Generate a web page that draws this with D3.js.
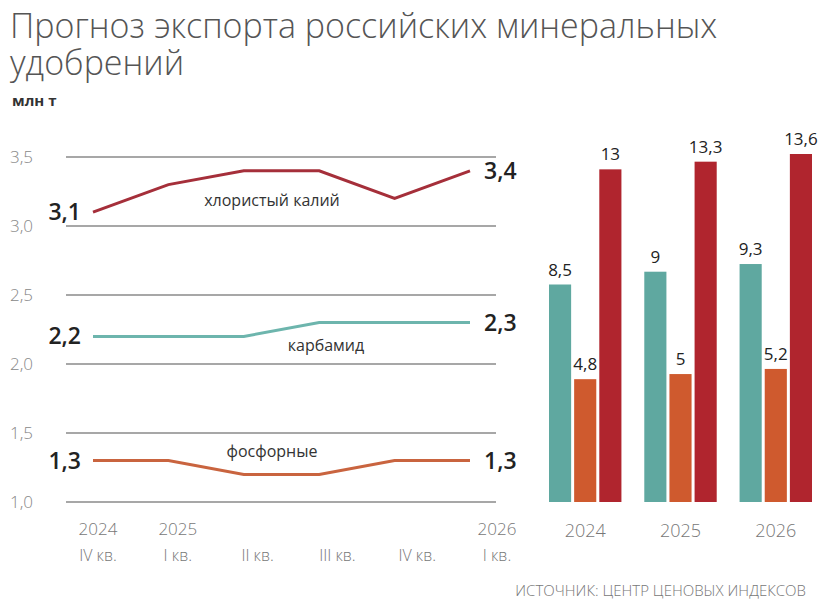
<!DOCTYPE html>
<html>
<head>
<meta charset="utf-8">
<script src="https://cdn.jsdelivr.net/npm/d3@7"></script>
<style>
  body { margin: 0; background: #fff; }
  text { font-family: "Open Sans", "Noto Sans", sans-serif; }
</style>
</head>
<body>
<div id="chart"></div>
<script>
// Quarterly line data
var quarters = ["2024 IV", "2025 I", "2025 II", "2025 III", "2025 IV", "2026 I"];
var yearLabels = ["2024", "2025", "", "", "", "2026"];
var quarterLabels = ["IV кв.", "I кв.", "II кв.", "III кв.", "IV кв.", "I кв."];
var potash = [3.1, 3.3, 3.4, 3.4, 3.2, 3.4];
var urea = [2.2, 2.2, 2.2, 2.3, 2.3, 2.3];
var phosphate = [1.3, 1.3, 1.2, 1.2, 1.3, 1.3];
var yTicks = [1.0, 1.5, 2.0, 2.5, 3.0, 3.5];

// Annual bar data
var years = ["2024", "2025", "2026"];
var ureaYear = [8.5, 9, 9.3];
var phosphateYear = [4.8, 5, 5.2];
var potashYear = [13, 13.3, 13.6];

var svgWidth = 824;
var svgHeight = 612;

var svg = d3.select("#chart").append("svg")
  .attr("width", svgWidth)
  .attr("height", svgHeight);

var fmt = function(v) { return String(v).replace(".", ","); };

// title (two lines in one text element)
var title = svg.append("text").attr("x", 10).attr("y", 38)
  .attr("font-size", 34).attr("font-weight", 300).attr("fill", "#555");
title.append("tspan").attr("x", 10).attr("dy", 0)
  .text("Прогноз экспорта российских минеральных");
title.append("tspan").attr("x", 10).attr("dy", 37)
  .text("удобрений");
svg.append("text").attr("x", 12).attr("y", 106)
  .attr("font-size", 15).attr("font-weight", 700).attr("fill", "#333")
  .text("млн т");

// ---------- line chart ----------
var xLine = d3.scalePoint().domain(quarters).range([93, 470]);
var xLabel = d3.scalePoint().domain(quarters).range([98, 497]);
var yLine = d3.scaleLinear().domain([1.0, 3.5]).range([502, 157]);

var grid = svg.append("g");
grid.selectAll("line").data(yTicks).enter().append("line")
  .attr("x1", 66).attr("x2", 496)
  .attr("y1", d => yLine(d)).attr("y2", d => yLine(d))
  .attr("stroke", "#8a8a8a").attr("stroke-width", 1.5);
grid.selectAll("text").data(yTicks).enter().append("text")
  .attr("x", 10).attr("y", d => yLine(d) + 6)
  .attr("font-size", 17).attr("font-weight", 300).attr("fill", "#888")
  .text(d => d.toFixed(1).replace(".", ","));

var lineGen = d3.line()
  .x((d, i) => xLine(quarters[i]))
  .y(d => yLine(d));

var series = [
  { values: potash, color: "#a52f3a", label: "хлористый калий", lx: 272, ly: 206 },
  { values: urea, color: "#6db5ad", label: "карбамид", lx: 326, ly: 351 },
  { values: phosphate, color: "#c9643f", label: "фосфорные", lx: 272, ly: 457 }
];

series.forEach(function(s) {
  svg.append("path").datum(s.values)
    .attr("d", lineGen)
    .attr("fill", "none")
    .attr("stroke", s.color)
    .attr("stroke-width", 3);
  svg.append("text")
    .attr("x", xLine(quarters[0]) - 12).attr("y", yLine(s.values[0]) + 8)
    .attr("text-anchor", "end")
    .attr("font-size", 23).attr("font-weight", 600).attr("fill", "#222")
    .text(fmt(s.values[0]));
  var last = s.values.length - 1;
  svg.append("text")
    .attr("x", xLine(quarters[last]) + 14).attr("y", yLine(s.values[last]) + 8)
    .attr("font-size", 23).attr("font-weight", 600).attr("fill", "#222")
    .text(fmt(s.values[last]));
  svg.append("text")
    .attr("x", s.lx).attr("y", s.ly)
    .attr("text-anchor", "middle")
    .attr("font-size", 16).attr("fill", "#333")
    .text(s.label);
});

// x labels of line chart
var xl = svg.append("g");
xl.selectAll("text.yr").data(quarters).enter().append("text")
  .attr("class", "yr")
  .attr("x", d => xLabel(d)).attr("y", 535)
  .attr("text-anchor", "middle")
  .attr("font-size", 17).attr("font-weight", 300).attr("fill", "#777")
  .text((d, i) => yearLabels[i]);
xl.selectAll("text.q").data(quarters).enter().append("text")
  .attr("class", "q")
  .attr("x", d => xLabel(d)).attr("y", 561)
  .attr("text-anchor", "middle")
  .attr("font-size", 16).attr("font-weight", 300).attr("fill", "#777")
  .text((d, i) => quarterLabels[i]);

// ---------- bar chart ----------
var x0 = d3.scaleBand().domain(years).range([549, 812]).paddingInner(0.24).paddingOuter(0);
var x1 = d3.scaleBand().domain(["urea", "phosphate", "potash"])
  .range([0, x0.bandwidth()]).paddingInner(0.12);
var yBar = d3.scaleLinear().domain([0, 13.6]).range([502, 154]);

var barColors = { urea: "#5fa8a0", phosphate: "#cf5a2e", potash: "#b0252e" };
var barData = [];
years.forEach(function(y, i) {
  barData.push({ year: y, key: "urea", value: ureaYear[i] });
  barData.push({ year: y, key: "phosphate", value: phosphateYear[i] });
  barData.push({ year: y, key: "potash", value: potashYear[i] });
});

var bars = svg.append("g");
bars.selectAll("rect").data(barData).enter().append("rect")
  .attr("x", d => x0(d.year) + x1(d.key))
  .attr("y", d => yBar(d.value))
  .attr("width", x1.bandwidth())
  .attr("height", d => yBar(0) - yBar(d.value))
  .attr("fill", d => barColors[d.key]);
bars.selectAll("text").data(barData).enter().append("text")
  .attr("x", d => x0(d.year) + x1(d.key) + x1.bandwidth() / 2)
  .attr("y", d => yBar(d.value) - 9)
  .attr("text-anchor", "middle")
  .attr("font-size", 17).attr("font-weight", 500).attr("fill", "#222")
  .text(d => fmt(d.value));

svg.append("g").selectAll("text").data(years).enter().append("text")
  .attr("x", d => x0(d) + x0.bandwidth() / 2).attr("y", 537)
  .attr("text-anchor", "middle")
  .attr("font-size", 18).attr("font-weight", 300).attr("fill", "#777")
  .text(d => d);

// source
svg.append("text").attr("x", 806).attr("y", 596)
  .attr("text-anchor", "end")
  .attr("font-size", 15).attr("font-weight", 300).attr("fill", "#777")
  .text("ИСТОЧНИК: ЦЕНТР ЦЕНОВЫХ ИНДЕКСОВ");
</script>
</body>
</html>
